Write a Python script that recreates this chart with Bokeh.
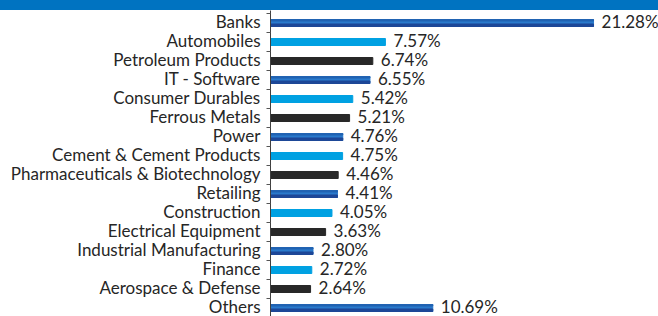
from bokeh.plotting import figure
from bokeh.models import Range1d, FixedTicker, ColumnDataSource, Div
from bokeh.layouts import column
from bokeh.core.properties import value
from bokeh.embed import file_html
from bokeh.resources import INLINE

categories = ["Banks", "Automobiles", "Petroleum Products", "IT - Software",
              "Consumer Durables", "Ferrous Metals", "Power",
              "Cement & Cement Products", "Pharmaceuticals & Biotechnology",
              "Retailing", "Construction", "Electrical Equipment",
              "Industrial Manufacturing", "Finance", "Aerospace & Defense", "Others"]
weights = [21.28, 7.57, 6.74, 6.55, 5.42, 5.21, 4.76, 4.75, 4.46, 4.41,
           4.05, 3.63, 2.80, 2.72, 2.64, 10.69]
value_labels = ["21.28%", "7.57%", "6.74%", "6.55%", "5.42%", "5.21%", "4.76%",
                "4.75%", "4.46%", "4.41%", "4.05%", "3.63%", "2.80%", "2.72%",
                "2.64%", "10.69%"]

GRAD, LIGHT, DARK = "grad", "light", "dark"
kinds = [GRAD, LIGHT, DARK] * 5 + [GRAD]
color_map = {GRAD: "#2A7ACC", LIGHT: "#00A1E2", DARK: "#282828"}

n = len(categories)
rows = list(range(n))
PX = 1.0 / 19.0  # one pixel in row units
BAR_H = 7 * PX
BAR_SHIFT = 2 * PX

src = ColumnDataSource(dict(
    y=[r + BAR_SHIFT for r in rows],
    ylab=rows,
    w=weights,
    lab=value_labels,
    color=[color_map[k] for k in kinds],
))
g_rows = [r + BAR_SHIFT for r, k in zip(rows, kinds) if k == GRAD]
g_w = [w for w, k in zip(weights, kinds) if k == GRAD]

W, H, BAND = 658, 306, 10
TOP = 1  # px above the first row cell
p = figure(width=W, height=H, output_backend="svg", toolbar_location=None,
           x_range=Range1d(0, 25.56),
           y_range=Range1d((H - TOP) / 19.0 - 0.5, -0.5 - TOP * PX),
           x_axis_location=None, min_border_left=270, min_border_right=0,
           min_border_top=0, min_border_bottom=0)
p.outline_line_color = None
p.grid.visible = False
p.background_fill_color = "white"
p.border_fill_color = "white"

p.hbar(y="y", right="w", left=0, height=BAR_H, color="color", source=src)
# gradient effect on the blue bars
p.hbar(y=[r - 2.75 * PX for r in g_rows], right=g_w, left=0, height=1.5 * PX,
       color="#2163B2")
p.hbar(y=[r + 2.25 * PX for r in g_rows], right=g_w, left=0, height=2.5 * PX,
       color="#1D4797")

p.text(x="w", y="ylab", text="lab", source=src, x_offset=8, y_offset=0,
       text_baseline="middle", text_align="left",
       text_font=value("Lato"), text_font_size="17px", text_color="#262626")

ax = p.yaxis[0]
ax.ticker = FixedTicker(ticks=rows,
                        minor_ticks=[r - 0.5 + BAR_SHIFT for r in rows])
ax.major_label_overrides = {r: c for r, c in zip(rows, categories)}
ax.major_tick_line_color = None
ax.major_tick_out = 0
ax.major_tick_in = 0
ax.minor_tick_out = 4
ax.minor_tick_in = 0
ax.minor_tick_line_color = "#555555"
ax.axis_line_color = "#404040"
ax.axis_line_width = 1
ax.major_label_standoff = 6
ax.major_label_text_font = "Lato"
ax.major_label_text_font_size = "17px"
ax.major_label_text_color = "#262626"

band = Div(width=W, height=BAND, margin=0, styles={"background-color": "#0073C1"})
layout = column(band, p, spacing=0)

open("out.html", "w").write(file_html(layout, INLINE))
